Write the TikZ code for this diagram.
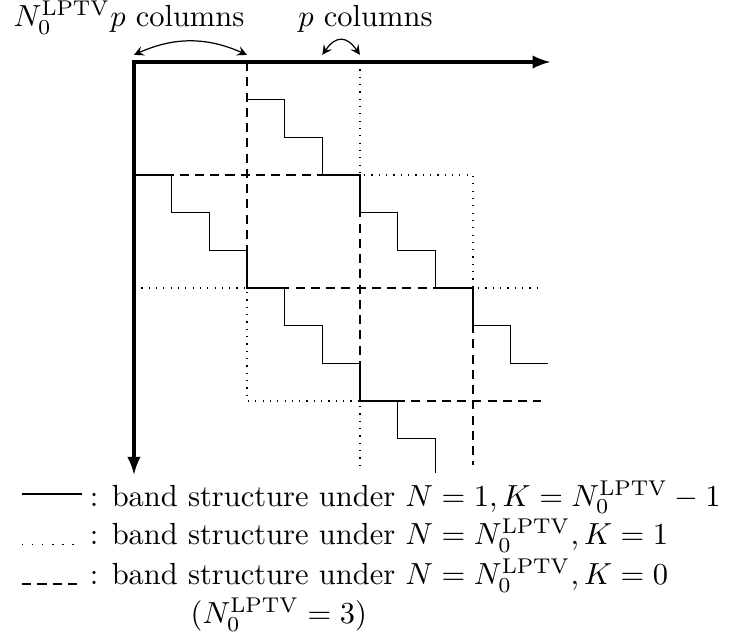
\documentclass[tikz,border=0pt]{standalone}
\usetikzlibrary{arrows}
\begin{document}
\begin{tikzpicture}[x=0.434cm, y=-0.434cm,
    axis/.style={line width=1pt, latex-latex},
    band/.style={line width=0.4pt},
    block/.style={densely dashed},
    wide/.style={dotted},
    keydot/.style={dash pattern=on 0.4pt off 2.9pt},
    span/.style={stealth-stealth},
    lbl/.style={anchor=base west, inner sep=0pt}]
    \useasboundingbox (-3.557,-1.646) rectangle (15.85,15.29);

    % axes
    \coordinate (o) at (0,0);
    \coordinate (xend) at (11.05,0);
    \coordinate (yend) at (0,10.95);
    \draw[axis] (yend) -- (o) -- (xend);

    % blocks
    \draw[wide] (6,0) -- (6,3) -- (9,3) -- (9,6) -- (10.8,6);
    \draw[wide] (0,6) -- (3,6) -- (3,9) -- (6,9) -- (6,10.7);
    \draw[block] (0,3) -- (6,3) -- (6,9) -- (10.8,9);
    \draw[block] (3,0) -- (3,6) -- (9,6) -- (9,10.7);

    % staircases
    \draw[band] (0,3) foreach \k in {1,...,7} { -| (\k,\k+3) } -| (8,10.9);
    \draw[band] (3,1) foreach \k in {4,...,10} { -| (\k,\k-2) } -- (11,8);

    % column spans
    \coordinate (s0) at (0,-0.19);
    \coordinate (s1) at (3,-0.19);
    \coordinate (s2) at (5,-0.19);
    \coordinate (s3) at (6,-0.19);
    \draw[span] (s0) to[bend left=24] (s1);
    \draw[span] (s2) to[out=55, in=125, looseness=1.6] (s3);
    \node[lbl] (wcols) at (-3.21,-0.94) {$N_0^{\mathrm{LPTV}}p$ columns};
    \node[lbl] (pcols) at (4.35,-0.94) {$p$ columns};

    % legend
    \coordinate (k1a) at (-2.97,11.47);
    \coordinate (k1b) at (-1.38,11.47);
    \coordinate (k2a) at (-2.97,12.80);
    \coordinate (k2b) at (-1.38,12.80);
    \coordinate (k3a) at (-2.97,13.86);
    \coordinate (k3b) at (-1.38,13.86);
    \draw (k1a) -- (k1b);
    \draw[keydot] (k2a) -- (k2b);
    \draw[block] (k3a) -- (k3b);
    \node[lbl] (leg1) at (-1.19,11.79) {: band structure under $N=1, K=N_0^{\mathrm{LPTV}}-1$};
    \node[lbl] (leg2) at (-1.19,12.82) {: band structure under $N=N_0^{\mathrm{LPTV}}, K=1$};
    \node[lbl] (leg3) at (-1.19,13.88) {: band structure under $N=N_0^{\mathrm{LPTV}}, K=0$};
    \node[lbl] (leg4) at (1.49,14.92) {$(N_0^{\mathrm{LPTV}}=3)$};
\end{tikzpicture}
\end{document}
